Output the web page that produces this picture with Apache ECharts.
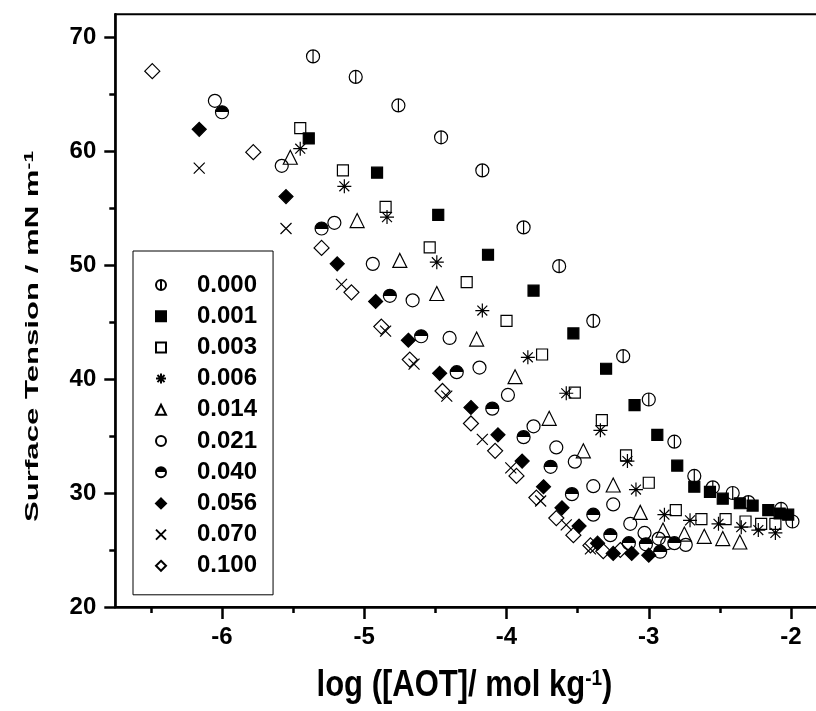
<!DOCTYPE html>
<html><head><meta charset="utf-8">
<script src="https://cdn.jsdelivr.net/npm/echarts@6/dist/echarts.min.js"></script>
<style>html,body{margin:0;padding:0;background:#fff}#c{width:816px;height:711px}</style>
</head><body><div id="c"></div>
<script>
// ---- data (log [AOT], surface tension) ----
const seriesNames = ['0.000','0.001','0.003','0.006','0.014','0.021','0.040','0.056','0.070','0.100'];
const s000 = [[-5.36,68.3],[-5.06,66.5],[-4.76,64.0],[-4.46,61.2],[-4.17,58.3],[-3.88,53.3],[-3.63,49.9],[-3.39,45.1],[-3.18,42.0],[-3.00,38.2],[-2.82,34.5],[-2.68,31.5],[-2.55,30.5],[-2.41,30.0],[-2.30,29.2],[-2.07,28.6],[-1.99,27.5]];
const s001 = [[-5.39,61.1],[-4.91,58.1],[-4.48,54.4],[-4.13,50.9],[-3.81,47.75],[-3.53,44.0],[-3.30,40.9],[-3.10,37.7],[-2.94,35.1],[-2.80,32.4],[-2.68,30.55],[-2.57,30.1],[-2.48,29.5],[-2.36,29.1],[-2.27,28.9],[-2.16,28.5],[-2.08,28.2],[-2.02,28.1]];
const s003 = [[-5.45,62.0],[-5.15,58.3],[-4.85,55.1],[-4.54,51.55],[-4.28,48.5],[-4.00,45.1],[-3.75,42.15],[-3.52,38.8],[-3.33,36.4],[-3.16,33.3],[-3.00,30.9],[-2.81,28.5],[-2.63,27.7],[-2.46,27.7],[-2.32,27.5],[-2.21,27.3],[-2.11,27.3]];
const s006 = [[-5.45,60.2],[-5.14,56.9],[-4.84,54.2],[-4.49,50.25],[-4.17,46.0],[-3.85,41.9],[-3.58,38.75],[-3.34,35.5],[-3.15,32.8],[-3.09,30.3],[-2.89,28.1],[-2.71,27.6],[-2.51,27.3],[-2.35,27.0],[-2.23,26.75],[-2.11,26.5]];
const s014 = [[-5.52,59.45],[-5.05,53.9],[-4.75,50.4],[-4.49,47.5],[-4.21,43.5],[-3.94,40.2],[-3.70,36.55],[-3.46,33.7],[-3.25,30.7],[-3.06,28.3],[-2.90,26.75],[-2.75,26.4],[-2.61,26.2],[-2.48,26.0],[-2.36,25.7]];
const s021 = [[-6.05,64.4],[-5.58,58.7],[-5.21,53.7],[-4.94,50.1],[-4.66,46.9],[-4.40,43.6],[-4.19,41.0],[-3.99,38.6],[-3.81,35.85],[-3.65,34.0],[-3.52,32.75],[-3.39,30.6],[-3.25,29.0],[-3.13,27.3],[-3.03,26.5],[-2.93,26.0],[-2.87,25.6],[-2.74,25.45]];
const s040 = [[-6.00,63.4],[-5.30,53.2],[-4.82,47.3],[-4.60,43.75],[-4.35,40.6],[-4.10,37.4],[-3.88,34.9],[-3.69,32.3],[-3.54,29.9],[-3.39,28.1],[-3.27,26.3],[-3.14,25.6],[-3.02,25.5],[-2.92,24.85],[-2.82,25.6]];
const s056 = [[-6.16,61.9],[-5.55,56.0],[-5.19,50.1],[-4.92,46.8],[-4.69,43.4],[-4.47,40.5],[-4.25,37.5],[-4.06,35.1],[-3.89,32.8],[-3.74,30.55],[-3.61,28.7],[-3.49,27.1],[-3.36,25.6],[-3.25,24.7],[-3.12,24.7],[-3.00,24.55]];
const s070 = [[-6.16,58.5],[-5.55,53.2],[-5.16,48.3],[-4.85,44.2],[-4.65,41.3],[-4.42,38.5],[-4.17,34.7],[-3.97,32.2],[-3.76,29.3],[-3.58,27.2],[-3.41,25.1]];
const s100 = [[-6.49,67.0],[-5.78,59.9],[-5.30,51.5],[-5.09,47.6],[-4.88,44.6],[-4.68,41.7],[-4.45,38.95],[-4.25,36.1],[-4.08,33.7],[-3.93,31.5],[-3.79,29.6],[-3.65,27.8],[-3.53,26.3],[-3.41,25.4],[-3.32,24.9],[-3.20,25.0]];
const xMajorTicks = [-6,-5,-4,-3,-2];
const xMinorTicks = [-6.5,-5.5,-4.5,-3.5,-2.5];
const yMajorTicks = [20,30,40,50,60,70];
const yMinorTicks = [25,35,45,55,65];

// ---- styling ----
const FONT = '"Liberation Sans", Arial, sans-serif';
const PHI = 'path://M0,10A10,10 0 1,1 20,10A10,10 0 1,1 0,10ZM10,0L10,20';
const STAR = 'path://M10,0L10,20M0,10L20,10M2.93,2.93L17.07,17.07M17.07,2.93L2.93,17.07M10,8.6A1.4,1.4 0 1,1 10,11.4A1.4,1.4 0 1,1 10,8.6Z';
const CROSS = 'path://M0,0L20,20M20,0L0,20';
const NONE = 'rgba(255,255,255,0)';
const halfFill = new echarts.graphic.LinearGradient(0,0,0,1,[
  {offset:0,color:'#000'},{offset:0.5,color:'#000'},{offset:0.5,color:'#fff'},{offset:1,color:'#fff'}]);
const dataList = [s000,s001,s003,s006,s014,s021,s040,s056,s070,s100];
const looks = [
  {symbol:PHI, size:13, fill:NONE},
  {symbol:'rect', size:11, fill:'#000'},
  {symbol:'rect', size:11, fill:NONE},
  {symbol:STAR, size:14, fill:'#000'},
  {symbol:'triangle', size:14, fill:NONE},
  {symbol:'circle', size:13, fill:NONE},
  {symbol:'circle', size:13, fill:halfFill},
  {symbol:'diamond', size:14, fill:'#000'},
  {symbol:CROSS, size:11, fill:NONE},
  {symbol:'diamond', size:15, fill:NONE}
];

const series = seriesNames.map((n,i)=>({
  name:n, type:'scatter', data:dataList[i], silent:true,
  symbol:looks[i].symbol, symbolSize:looks[i].size,
  itemStyle:{color:looks[i].fill, borderColor:'#000', borderWidth:1.2, opacity:1}
}));

const axisLbl = {fontSize:24, fontWeight:'bold', fontFamily:FONT, color:'#000'};
const chart = echarts.init(document.getElementById('c'), null, {renderer:'canvas'});
chart.setOption({
  animation:false,
  backgroundColor:'#fff',
  grid:{left:115.3, top:14.2, right:-10.6, bottom:104, show:true, borderColor:'#000', borderWidth:2, backgroundColor:'transparent', containLabel:false, outerBoundsMode:'none'},
  xAxis:[
    {type:'value', min:-6.75, max:-1.75, position:'bottom',
     axisLine:{show:true, onZero:false, lineStyle:{color:'#000', width:2.5}},
     axisTick:{show:true, length:12, customValues:xMajorTicks, lineStyle:{color:'#000', width:2.5}},
     axisLabel:Object.assign({customValues:xMajorTicks, margin:18}, axisLbl),
     splitLine:{show:false}},
    {type:'value', min:-6.75, max:-1.75, position:'bottom',
     axisLine:{show:false, onZero:false},
     axisTick:{show:true, length:6, customValues:xMinorTicks, lineStyle:{color:'#000', width:2.5}},
     axisLabel:{show:false}, splitLine:{show:false}}
  ],
  yAxis:[
    {type:'value', min:20, max:72, position:'left',
     axisLine:{show:true, onZero:false, lineStyle:{color:'#000', width:2.5}},
     axisTick:{show:true, length:11, customValues:yMajorTicks, lineStyle:{color:'#000', width:2.5}},
     axisLabel:Object.assign({customValues:yMajorTicks, margin:19}, axisLbl),
     splitLine:{show:false}},
    {type:'value', min:20, max:72, position:'left',
     axisLine:{show:false, onZero:false},
     axisTick:{show:true, length:6, customValues:yMinorTicks, lineStyle:{color:'#000', width:2.5}},
     axisLabel:{show:false}, splitLine:{show:false}}
  ],
  legend:{
    orient:'vertical', left:133, top:251, selectedMode:false,
    padding:[21,16,16,22], itemWidth:10, itemHeight:10, itemGap:5.2,
    borderColor:'#000', borderWidth:1, backgroundColor:'#fff',
    textStyle:{fontSize:24, fontWeight:'bold', fontFamily:FONT, color:'#000', lineHeight:26, padding:[0,0,0,26]},
    data:seriesNames
  },
  graphic:[
    {type:'text', x:33, y:336.5, rotation:Math.PI/2, scaleX:1.73, scaleY:1, silent:true,
     style:{text:'{a|Surface Tension / mN m}{s|-1}', align:'center', verticalAlign:'middle', textAlign:'center', textVerticalAlign:'middle',
       rich:{a:{fontSize:18, fontWeight:'bold', fontFamily:FONT, fill:'#000', color:'#000'},
             s:{fontSize:12, fontWeight:'bold', fontFamily:FONT, fill:'#000', color:'#000', verticalAlign:'top'}}}},
    {type:'text', x:464.5, y:686, scaleX:1, scaleY:1.2, silent:true,
     style:{text:'{a|log ([AOT]/ mol kg}{s|-1}{a|)}', align:'center', verticalAlign:'middle', textAlign:'center', textVerticalAlign:'middle',
       rich:{a:{fontSize:31, fontWeight:'bold', fontFamily:FONT, fill:'#000', color:'#000'},
             s:{fontSize:19, fontWeight:'bold', fontFamily:FONT, fill:'#000', color:'#000', verticalAlign:'top'}}}}
  ],
  series:series
});
</script></body></html>
